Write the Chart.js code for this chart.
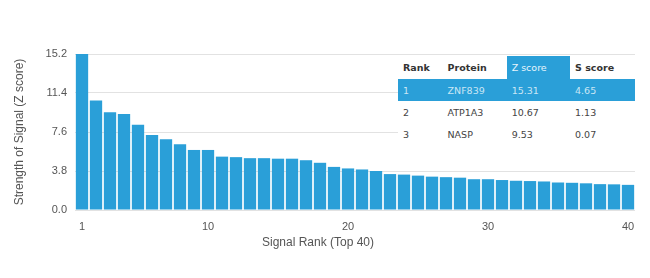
<!DOCTYPE html>
<html>
<head>
<meta charset="utf-8">
<script src="https://cdn.jsdelivr.net/npm/chart.js@4.4.0/dist/chart.umd.min.js"></script>
<style>
    html, body { margin: 0; padding: 0; background: #fff; }
    #wrap { position: relative; width: 650px; height: 278px; }
    #chart { position: absolute; left: 0; top: 0; }
    #x-title {
        position: absolute; left: 218px; width: 200px; top: 235px; text-align: center;
        font-family: "Liberation Sans", Arial, sans-serif; font-size: 12px; color: #555;
    }
    #rank-table {
        position: absolute; left: 398px; top: 56px; width: 237px;
        border-collapse: collapse; background: #fff;
        font-family: "DejaVu Sans", sans-serif; font-size: 9.5px; color: #444;
    }
    #rank-table th, #rank-table td { text-align: left; padding: 0 0 0 5px; white-space: nowrap; }
    #rank-table th { height: 23px; font-weight: bold; color: #333; }
    #rank-table td { height: 22px; }
    #rank-table th.hl { background: #2a9fd8; color: #e8f5fc; font-weight: normal; }
    #rank-table tr.hl td { background: #2a9fd8; color: rgba(255,255,255,0.75); }
</style>
</head>
<body>
<div id="wrap">
    <canvas id="chart" width="650" height="278"></canvas>
    <div id="x-title">Signal Rank (Top 40)</div>
    <table id="rank-table"></table>
</div>
<script>
// signal ranks 1..40 and their Z scores
const ranks = Array.from({ length: 40 }, (_, i) => String(i + 1));
const zScores = [
    15.31, 10.67, 9.53, 9.35, 8.3, 7.3, 6.9, 6.4, 5.85, 5.85,
    5.2, 5.15, 5.05, 5.05, 5.0, 5.0, 4.85, 4.6, 4.2, 4.05,
    3.95, 3.8, 3.5, 3.45, 3.35, 3.25, 3.2, 3.15, 3.0, 3.0,
    2.92, 2.85, 2.82, 2.78, 2.68, 2.65, 2.6, 2.52, 2.5, 2.45
];
const yTicks = [0, 3.8, 7.6, 11.4, 15.2];
const shownRankLabels = ['1', '10', '20', '30', '40'];

// top 3 table
const tableHeader = ['Rank', 'Protein', 'Z score', 'S score'];
const tableRanks = ['1', '2', '3'];
const tableProteins = ['ZNF839', 'ATP1A3', 'NASP'];
const tableZ = ['15.31', '10.67', '9.53'];
const tableS = ['4.65', '1.13', '0.07'];

const barColor = '#2a9fd8';

function buildTable() {
    const t = document.getElementById('rank-table');
    let html = '<tr>' + tableHeader.map((h, i) =>
        `<th${i === 2 ? ' class="hl"' : ''} style="width:${[42, 63, 63, 64][i]}px">${h}</th>`).join('') + '</tr>';
    tableRanks.forEach((r, i) => {
        html += `<tr${i === 0 ? ' class="hl"' : ''}><td>${r}</td><td>${tableProteins[i]}</td><td>${tableZ[i]}</td><td>${tableS[i]}</td></tr>`;
    });
    t.innerHTML = html;
}
buildTable();

const axisFont = { family: '"Liberation Sans", Arial, sans-serif', size: 11 };

new Chart(document.getElementById('chart').getContext('2d'), {
    type: 'bar',
    data: {
        labels: ranks,
        datasets: [{
            data: zScores,
            backgroundColor: barColor,
            borderWidth: 0,
            barPercentage: 0.88,
            categoryPercentage: 1.0
        }]
    },
    options: {
        responsive: false,
        animation: false,
        devicePixelRatio: 1,
        layout: { padding: { left: 8, right: 15, top: 54, bottom: 0 } },
        plugins: { legend: { display: false }, tooltip: { enabled: false } },
        scales: {
            x: {
                grid: { display: false },
                border: { display: false },
                afterFit: axis => { axis.height = 68; },
                ticks: {
                    autoSkip: false, maxRotation: 0, color: '#555', font: axisFont, padding: 2,
                    callback: function (v) {
                        const l = this.getLabelForValue(v);
                        return shownRankLabels.includes(l) ? l : '';
                    }
                }
            },
            y: {
                min: 0, max: 15.2,
                afterBuildTicks: axis => { axis.ticks = yTicks.map(v => ({ value: v })); },
                afterFit: axis => { axis.width = 67; },
                grid: { color: '#e2e2e2', drawTicks: false },
                border: { display: false },
                ticks: { color: '#555', font: axisFont, padding: 8, callback: v => v.toFixed(1) },
                title: { display: true, text: 'Strength of Signal (Z score)', color: '#555', font: { ...axisFont, size: 12 }, padding: { bottom: 2 } }
            }
        }
    }
});
</script>
</body>
</html>
